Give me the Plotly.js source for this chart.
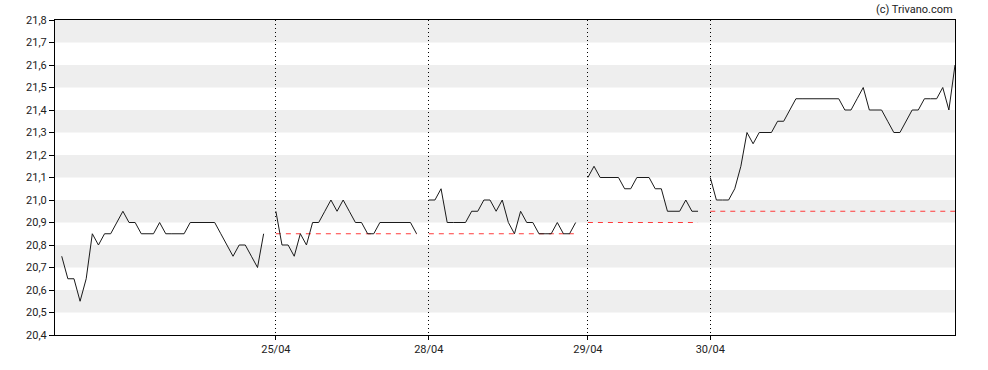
<!DOCTYPE html>
<html>
<head>
<meta charset="utf-8">
<script src="https://cdn.plot.ly/plotly-3.0.1.min.js"></script>
<style>html,body{margin:0;padding:0;background:#fff;}#chart{width:988px;height:370px;}</style>
</head>
<body>
<div id="chart"></div>
<script>
// Intraday prices per session
const day1 = [20.75,20.65,20.65,20.55,20.65,20.85,20.80,20.85,20.85,20.90,20.95,20.90,20.90,20.85,20.85,20.85,20.90,20.85,20.85,20.85,20.85,20.90,20.90,20.90,20.90,20.90,20.85,20.80,20.75,20.80,20.80,20.75,20.70,20.85];
const day2 = [20.95,20.80,20.80,20.75,20.85,20.80,20.90,20.90,20.95,21.00,20.95,21.00,20.95,20.90,20.90,20.85,20.85,20.90,20.90,20.90,20.90,20.90,20.90,20.85];
const day3 = [21.00,21.00,21.05,20.90,20.90,20.90,20.90,20.95,20.95,21.00,21.00,20.95,21.00,20.90,20.85,20.95,20.90,20.90,20.85,20.85,20.85,20.90,20.85,20.85,20.90];
const day4 = [21.10,21.15,21.10,21.10,21.10,21.10,21.05,21.05,21.10,21.10,21.10,21.05,21.05,20.95,20.95,20.95,21.00,20.95,20.95];
const day5 = [21.10,21.00,21.00,21.00,21.05,21.15,21.30,21.25,21.30,21.30,21.30,21.35,21.35,21.40,21.45,21.45,21.45,21.45,21.45,21.45,21.45,21.45,21.40,21.40,21.45,21.50,21.40,21.40,21.40,21.35,21.30,21.30,21.35,21.40,21.40,21.45,21.45,21.45,21.50,21.40,21.60];
const days = [day1, day2, day3, day4, day5];
// Previous close reference per session (none for the first)
const prevClose = [null, 20.85, 20.85, 20.90, 20.95];
// Session labels (first session unlabeled)
const dayLabels = ['', '25/04', '28/04', '29/04', '30/04'];
const yTicks = [20.4,20.5,20.6,20.7,20.8,20.9,21.0,21.1,21.2,21.3,21.4,21.5,21.6,21.7,21.8];

const xs = [], ys = [], traces = [], tickvals = [], ticktext = [];
let pos = 0;
days.forEach((d, k) => {
  const start = pos;
  d.forEach(v => { xs.push(pos); ys.push(v); pos++; });
  const end = pos - 1;
  if (k > 0) { tickvals.push(start); ticktext.push(dayLabels[k]); }
  if (prevClose[k] !== null) {
    traces.push({x:[start,end], y:[prevClose[k],prevClose[k]], mode:'lines', line:{color:'#ff3a3a', width:1, dash:'5px,5px'}, hoverinfo:'skip'});
  }
  xs.push(pos); ys.push(null); pos++;
});
xs.pop(); ys.pop();
const lastX = xs[xs.length - 1];
traces.push({x:xs, y:ys, mode:'lines', line:{color:'#1a1a1a', width:1}, connectgaps:false});

const shapes = [];
for (let i = 0; i + 1 < yTicks.length; i++) {
  if ((yTicks.length - 2 - i) % 2 === 0) {
    shapes.push({type:'rect', xref:'paper', yref:'y', x0:0, x1:1, y0:yTicks[i], y1:yTicks[i+1], fillcolor:'#eeeeee', line:{width:0}, layer:'below'});
  }
}

const layout = {
  width:988, height:370,
  margin:{l:55, r:33, t:20, b:35},
  paper_bgcolor:'#fff', plot_bgcolor:'#fff',
  separators:', ',
  showlegend:false,
  font:{family:'Roboto, Arial, sans-serif', size:11, color:'#222'},
  xaxis:{range:[-1.1, lastX], tickvals:tickvals, ticktext:ticktext, showgrid:true, gridcolor:'#000', griddash:'1px,3px', gridwidth:1,
         zeroline:false, showline:true, linecolor:'#000', linewidth:1, mirror:true, ticks:'outside', ticklen:4, tickcolor:'#000',
         tickfont:{size:11, color:'#222'}},
  yaxis:{range:[20.4, 21.8], tickvals:yTicks, tickformat:'.1f', showgrid:false, zeroline:false, showline:true, linecolor:'#000', linewidth:1,
         mirror:true, ticks:'outside', ticklen:5, tickcolor:'#000', tickfont:{size:11, color:'#222'}},
  shapes:shapes,
  annotations:[{text:'(c) Trivano.com', xref:'paper', yref:'paper', x:1, y:1, xanchor:'right', yanchor:'bottom', yshift:2, showarrow:false, font:{size:11, color:'#222'}}]
};
Plotly.newPlot('chart', traces, layout, {staticPlot:true, displayModeBar:false});
</script>
</body>
</html>
